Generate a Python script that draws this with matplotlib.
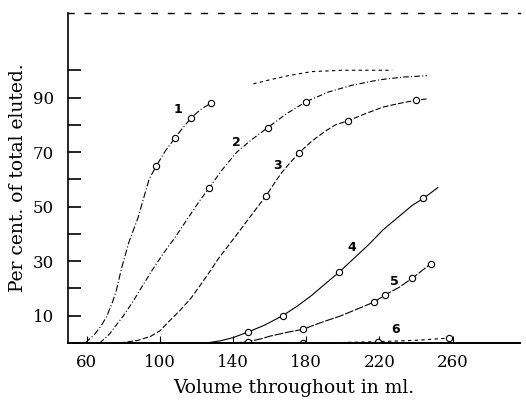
import matplotlib
matplotlib.use("Agg")
import matplotlib.pyplot as plt

# Elution curves: volume (ml) vs per cent of total eluted
c1_x = [59, 64, 68, 71, 74, 76, 79, 83, 88, 91, 94, 98, 103, 108, 112, 117, 122, 128]
c1_y = [0, 3, 6.5, 10, 15, 19, 27.5, 37, 46, 53, 60, 65, 70.5, 75, 78.5, 82.5, 85.5, 88]
c1_tail_x = [151, 160, 170, 183, 200, 215, 227]
c1_tail_y = [95, 96.5, 98, 99.5, 100, 100, 100]

c2_x = [67, 72, 76, 80, 85, 90, 96, 102, 108, 115, 121, 127, 134, 142, 150, 159,
        169, 180, 192, 205, 220, 233, 246]
c2_y = [0, 3, 6.5, 10, 15, 20.5, 27, 33, 38.5, 45.5, 51.5, 57, 63.5, 70, 74.5, 79,
        84, 88.5, 92, 94.5, 96.5, 97.5, 98]

c3_x = [78, 88, 95, 100, 105, 111, 117, 125, 132, 140, 149, 158, 166, 171, 176, 183,
        190, 196, 203, 212, 222, 232, 240, 246]
c3_y = [0, 1, 2.5, 4.5, 8, 12, 16.5, 24, 31, 38, 46, 54, 62, 66, 69.7, 74,
        77.5, 80, 81.5, 84, 86.5, 88, 89, 89.5]

c4_x = [125, 133, 140, 148, 157, 167, 175, 183, 190, 198, 206, 214, 222, 230, 238, 244, 252]
c4_y = [0, 0.8, 2, 4, 6.5, 10, 13.5, 17.5, 21.5, 26, 31, 36, 41.5, 46, 50.5, 53, 57]

c5_x = [140, 148, 155, 160, 170, 178, 188, 199, 208, 217, 223, 231, 238, 248]
c5_y = [0, 0.5, 1.5, 2.5, 4, 5, 7.5, 10, 12.5, 15, 17.6, 20.5, 23.8, 29]

c6_x = [170, 178, 200, 219, 240, 258]
c6_y = [0, 0, 0.2, 0.5, 1, 1.8]

# observation points drawn as open circles
c1_pts = [11, 13, 15, 17]
c2_pts = [11, 15, 17]
c3_pts = [11, 14, 18, 22]
c4_pts = [3, 5, 9, 15]
c5_pts = [1, 5, 9, 10, 12, 13]
c6_pts = [1, 3, 5]

curve_labels = ["1", "2", "3", "4", "5", "6"]
label_x = [110, 142, 164, 205, 228, 229]
label_y = [85.5, 73.4, 65, 35, 22.4, 4.8]

x_ticks = [60, 100, 140, 180, 220, 260]
y_ticks = [10, 30, 50, 70, 90]
y_minor = [20, 40, 60, 80, 100]

fig = plt.figure(figsize=(5.26, 4.05), dpi=100)
ax = fig.add_axes([0.129, 0.153, 0.860, 0.815])

mk = dict(marker="o", markersize=4.5, markerfacecolor="white",
          markeredgecolor="black", markeredgewidth=0.8, color="black")

ax.plot(c1_x, c1_y, linestyle=(0, (6, 2, 1, 2)), linewidth=0.8, markevery=c1_pts, **mk)
ax.plot(c1_tail_x, c1_tail_y, linestyle=(0, (3, 3)), linewidth=0.8, color="black")
ax.plot(c2_x, c2_y, linestyle=(0, (5, 2, 1, 2)), linewidth=0.8, markevery=c2_pts, **mk)
ax.plot(c3_x, c3_y, linestyle=(0, (5, 2)), linewidth=0.8, markevery=c3_pts, **mk)
ax.plot(c4_x, c4_y, linestyle="-", linewidth=0.8, markevery=c4_pts, **mk)
ax.plot(c5_x, c5_y, linestyle=(0, (8, 1.5)), linewidth=0.8, markevery=c5_pts, **mk)
ax.plot(c6_x, c6_y, linestyle=(0, (3, 3)), linewidth=0.8, markevery=c6_pts, **mk)

for t, lx, ly in zip(curve_labels, label_x, label_y):
    ax.text(lx, ly, t, fontsize=9, fontweight="bold", family="DejaVu Sans",
            ha="center", va="center")

ax.set_xlim(49.6, 297)
ax.set_ylim(0, 121)
ax.set_xticks(x_ticks)
ax.set_yticks(y_ticks)
ax.set_yticks(y_minor, minor=True)

serif = "DejaVu Serif"
for lbl in ax.get_xticklabels() + ax.get_yticklabels():
    lbl.set_family(serif)
    lbl.set_fontsize(12)
ax.tick_params(axis="y", which="both", direction="in", length=9, width=1.2, pad=10)
ax.tick_params(axis="x", which="both", direction="in", length=5, width=0.8, pad=8)

ax.spines["right"].set_visible(False)
ax.spines["top"].set_linestyle((0, (4, 8)))
ax.spines["top"].set_linewidth(1.0)
ax.spines["left"].set_linewidth(1.2)
ax.spines["bottom"].set_linewidth(1.4)

ax.set_xlabel("Volume throughout in ml.", family=serif, fontsize=13.5, labelpad=6)
ax.set_ylabel("Per cent. of total eluted.", family=serif, fontsize=13.5, labelpad=4)

fig.savefig("out.png", dpi=100)
